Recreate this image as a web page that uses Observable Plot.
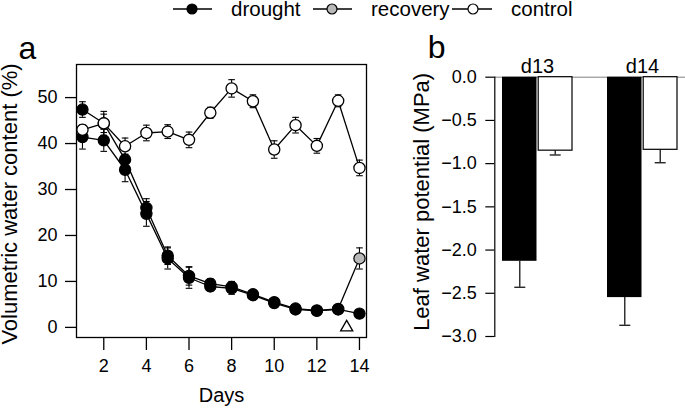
<!DOCTYPE html>
<html>
<head>
<meta charset="utf-8">
<script src="https://cdn.jsdelivr.net/npm/d3@7"></script>
<script src="https://cdn.jsdelivr.net/npm/@observablehq/plot@0.6"></script>
<style>
  html, body { margin: 0; padding: 0; background: #fff; }
  #wrap { position: relative; width: 685px; height: 408px; overflow: hidden; background: #fff; }
  #wrap > svg, #wrap > figure { position: absolute; top: 0; margin: 0; }
</style>
</head>
<body>
<div id="wrap"></div>
<script>
// ---------- Panel a: volumetric water content (%) ----------
const days = [1, 2, 3, 4, 5, 6, 7, 8, 9, 10, 11, 12, 13, 14];
const droughtVWC  = [41.4, 40.7, 34.3, 24.7, 15.0, 10.8, 8.9, 8.5, 7.0, 5.3, 3.9, 3.6, 3.9, 3.0];
const droughtSE   = [2.6, 2.4, 2.6, 2.7, 2.3, 2.3, 1.0, 1.3, 0.7, 0.5, 0.4, 0.5, 0.5, 0.5];
const recoveryVWC = [47.4, 44.4, 36.5, 26.0, 15.6, 11.2, 9.5, 8.8, 7.2, 5.5, 4.1, 3.7, 4.0, 15.0];
const recoverySE  = [1.7, 2.0, 1.2, 2.0, 1.9, 2.0, 1.1, 1.2, 0.8, 0.6, 0.5, 0.5, 0.6, 2.3];
const controlVWC  = [43.0, 44.4, 39.4, 42.3, 42.6, 40.8, 46.7, 52.0, 49.2, 38.7, 44.0, 39.5, 49.3, 34.7];
const controlSE   = [1.0, 2.6, 1.8, 1.7, 1.5, 1.7, 1.2, 1.9, 1.4, 1.9, 1.7, 1.6, 1.3, 1.7];
const rewateringDay = [13.4];          // open triangle marker
const rewateringLevel = [0];
const xTicksA = [2, 4, 6, 8, 10, 12, 14];
const yTicksA = [0, 10, 20, 30, 40, 50];

// ---------- Panel b: leaf water potential (MPa) ----------
const lwpDays = ["d13", "d14"];
const lwpDrought   = [-2.13, -2.55];
const lwpDroughtSE = [0.30, 0.32];
const lwpControl   = [-0.85, -0.84];
const lwpControlSE = [0.05, 0.15];
const yTicksB = [-3.0, -2.5, -2.0, -1.5, -1.0, -0.5, 0.0];

const legendItems = ["drought", "recovery", "control"];

// ---------- tables ----------
const FONT = '"Liberation Sans", Arial, Helvetica, sans-serif';
const GRAY = "#b8b8b8";
const rows = [];
days.forEach((d, i) => {
  rows.push({group: "drought",  day: d, value: droughtVWC[i],  se: droughtSE[i]});
  rows.push({group: "recovery", day: d, value: recoveryVWC[i], se: recoverySE[i]});
  rows.push({group: "control",  day: d, value: controlVWC[i],  se: controlSE[i]});
});
const stressed = rows.filter(r => r.group !== "control");
const control = rows.filter(r => r.group === "control");
const marker = rewateringDay.map((d, i) => ({day: d, value: rewateringLevel[i]}));

const lwp = [];
lwpDays.forEach((d, i) => {
  lwp.push({group: "drought", day: d, value: lwpDrought[i], se: lwpDroughtSE[i]});
  lwp.push({group: "control", day: d, value: lwpControl[i], se: lwpControlSE[i]});
});
const lwpD = lwp.filter(r => r.group === "drought");
const lwpC = lwp.filter(r => r.group === "control");

// horizontal error-bar cap as a custom symbol
const cap = {draw(ctx, size) { const w = Math.sqrt(size / Math.PI); ctx.moveTo(-w, 0); ctx.lineTo(w, 0); }};

const wrap = document.getElementById("wrap");

// ---------- Panel a ----------
const plotA = Plot.plot({
  width: 390, height: 408,
  marginLeft: 76, marginRight: 24, marginTop: 64, marginBottom: 71,
  style: {fontFamily: FONT, fontSize: "18px", color: "black", background: "white", overflow: "visible"},
  x: {domain: [0.72, 14.33]},
  y: {domain: [-2.2, 57.2]},
  marks: [
    Plot.frame({stroke: "black", strokeWidth: 1.3}),
    Plot.axisX({ticks: xTicksA, tickSize: 13, tickPadding: 9, strokeWidth: 1.3, label: null, fontSize: 18}),
    Plot.axisY({ticks: yTicksA, tickSize: 11, tickPadding: 8, strokeWidth: 1.3, label: null, fontSize: 18}),
    // error bars
    Plot.ruleX(rows, {x: "day", y1: d => d.value - d.se, y2: d => d.value + d.se, stroke: "black", strokeWidth: 1.1}),
    Plot.dot(rows, {x: "day", y: d => d.value - d.se, symbol: cap, r: 3.3, stroke: "black", fill: "none", strokeWidth: 1.1}),
    Plot.dot(rows, {x: "day", y: d => d.value + d.se, symbol: cap, r: 3.3, stroke: "black", fill: "none", strokeWidth: 1.1}),
    // lines
    Plot.line(stressed, {x: "day", y: "value", z: "group", stroke: "black", strokeWidth: 1.3}),
    Plot.line(control, {x: "day", y: "value", stroke: "black", strokeWidth: 1.3}),
    // points
    Plot.dot(stressed, {x: "day", y: "value", r: 5.6, stroke: "black", strokeWidth: 1.2,
      fill: d => (d.group === "recovery" && d.day === 14) ? GRAY : "black"}),
    Plot.dot(control, {x: "day", y: "value", r: 5.6, stroke: "black", strokeWidth: 1.3, fill: "white"}),
    Plot.dot(marker, {x: "day", y: "value", symbol: "triangle", r: 4.5, stroke: "black", strokeWidth: 1.3, fill: "white"}),
    // titles
    Plot.text(["Volumetric water content (%)"], {frameAnchor: "left", textAnchor: "middle", lineAnchor: "middle",
      rotate: -90, dx: -66.3, dy: 3, fontSize: 22, fill: "black"}),
    Plot.text(["Days"], {frameAnchor: "bottom", textAnchor: "middle", lineAnchor: "middle", dy: 58, fontSize: 20, fill: "black"}),
    Plot.text(["a"], {frameAnchor: "top-left", textAnchor: "start", lineAnchor: "bottom", dx: -58, dy: -6, fontSize: 32, fill: "black"})
  ]
});
plotA.style.left = "0px";
wrap.appendChild(plotA);

// ---------- Panel b ----------
const plotB = Plot.plot({
  width: 290, height: 408,
  marginLeft: 99.3, marginRight: 0, marginTop: 76.7, marginBottom: 72,
  style: {fontFamily: FONT, fontSize: "18px", color: "black", background: "white", overflow: "visible"},
  x: {domain: lwpDays, paddingInner: 0.33, paddingOuter: 0.066},
  y: {domain: [-3, 0]},
  marks: [
    Plot.ruleY([0], {stroke: "#808080", strokeWidth: 1}),
    Plot.frame({anchor: "left", stroke: "black", strokeWidth: 1.2}),
    // error bars (below bars)
    Plot.ruleX(lwpD, {x: "day", y1: "value", y2: d => d.value - d.se, dx: -17.7, stroke: "black", strokeWidth: 1.2}),
    Plot.dot(lwpD, {x: "day", y: d => d.value - d.se, dx: -17.7, symbol: cap, r: 5.5, stroke: "black", fill: "none", strokeWidth: 1.2}),
    Plot.ruleX(lwpC, {x: "day", y1: "value", y2: d => d.value - d.se, dx: 17.7, stroke: "black", strokeWidth: 1.2}),
    Plot.dot(lwpC, {x: "day", y: d => d.value - d.se, dx: 17.7, symbol: cap, r: 5.5, stroke: "black", fill: "none", strokeWidth: 1.2}),
    // bars
    Plot.barY(lwpD, {x: "day", y: "value", fill: "black", insetRight: 35.5}),
    Plot.barY(lwpC, {x: "day", y: "value", fill: "white", stroke: "black", strokeWidth: 1.2, insetLeft: 36.2}),
    // axes
    Plot.axisY({ticks: yTicksB, tickFormat: d3.format(".1f"), tickSize: 9, tickPadding: 9, strokeWidth: 1.2, label: null, fontSize: 18}),
    Plot.axisX({anchor: "top", tickSize: 0, tickPadding: 4, label: null, fontSize: 20}),
    Plot.text(["Leaf water potential (MPa)"], {frameAnchor: "left", textAnchor: "middle", lineAnchor: "middle",
      rotate: -90, dx: -73, dy: -5, fontSize: 22, fill: "black"}),
    Plot.text(["b"], {frameAnchor: "top-left", textAnchor: "start", lineAnchor: "bottom", dx: -67, dy: -19, fontSize: 32, fill: "black"})
  ]
});
plotB.style.left = "395px";
wrap.appendChild(plotB);

// ---------- Legend (above the panels) ----------
const legendLayout = [
  {x1: 173, x2: 212, cx: 192, tx: 231, fill: "black"},
  {x1: 313, x2: 352, cx: 332, tx: 371, fill: GRAY},
  {x1: 452, x2: 492, cx: 473, tx: 511, fill: "white"}
];
const leg = d3.create("svg").attr("width", 685).attr("height", 30)
  .style("left", "0px").style("font-family", FONT);
legendItems.forEach((name, i) => {
  const L = legendLayout[i];
  leg.append("line").attr("x1", L.x1).attr("x2", L.x2).attr("y1", 9).attr("y2", 9)
    .attr("stroke", "black").attr("stroke-width", 1.3);
  leg.append("circle").attr("cx", L.cx).attr("cy", 9).attr("r", 5)
    .attr("fill", L.fill).attr("stroke", "black").attr("stroke-width", 1.2);
  leg.append("text").attr("x", L.tx).attr("y", 16).attr("font-size", 20.5).attr("fill", "black").text(name);
});
wrap.appendChild(leg.node());
</script>
</body>
</html>
